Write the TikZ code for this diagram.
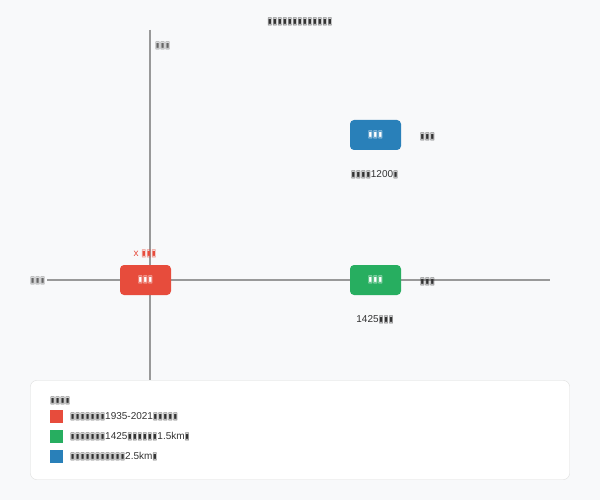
\documentclass[tikz,border=0pt]{standalone}
\usepackage{fontspec}
\usepackage{graphicx}
\setmainfont{Liberation Sans}
\newfontfamily\dejavu{DejaVu Sans}
\newcommand\tf{\makebox[5pt][c]{\resizebox{4.6pt}{6.4pt}{\dejavu\char"25A3}}}
\def\tfr#1{\ifnum#1>0 \tf\expandafter\tfr\expandafter{\the\numexpr#1-1\relax}\fi}
\definecolor{bgc}{HTML}{F8F9FA}
\definecolor{axisc}{HTML}{999999}
\definecolor{redc}{HTML}{E74C3C}
\definecolor{greenc}{HTML}{27AE60}
\definecolor{bluec}{HTML}{2980B9}
\definecolor{textc}{HTML}{333333}
\definecolor{grayc}{HTML}{666666}
\definecolor{borderc}{HTML}{DDDDDD}
\begin{document}
\begin{tikzpicture}[x=1pt,y=-1pt,
  axis/.style={draw=axisc,line width=2pt},
  place/.style={rounded corners=4pt,minimum width=51pt,minimum height=30pt,inner sep=0pt,text=white,font=\fontsize{8}{9}\selectfont},
  lbl/.style={text=textc,font=\fontsize{10}{12}\selectfont,inner sep=0pt},
  axlbl/.style={text=grayc,font=\fontsize{8}{9}\selectfont,inner sep=0pt},
  swatch/.style={minimum width=13pt,minimum height=13pt,inner sep=0pt},
  ]
\useasboundingbox (0,0) rectangle (600,500);
\fill[bgc] (0,0) rectangle (600,500);
% title
\node[text=textc,font=\bfseries\fontsize{8}{9}\selectfont,inner sep=0pt] (title) at (300,22) {\tfr{13}};
% axes
\coordinate (vtop) at (150,30);
\coordinate (vbot) at (150,380);
\coordinate (hleft) at (47,280);
\coordinate (hright) at (550,280);
\draw[axis] (vtop) -- (vbot);
\draw[axis] (hleft) -- (hright);
\node[axlbl,anchor=west] (nlab) at (155,46) {\tfr{3}};
\node[axlbl,anchor=west] (wlab) at (30,281) {\tfr{3}};
% places
\node[place,fill=redc] (home) at (145.5,280) {\tfr{3}};
\node[place,fill=greenc] (east) at (375.5,280) {\tfr{3}};
\node[place,fill=bluec] (ne) at (375.5,135) {\tfr{3}};
\node[text=redc,font=\fontsize{10}{11}\selectfont,inner sep=0pt] (homelab) at (145,253.5) {x \tfr{3}};
\node[lbl,font=\fontsize{8}{9}\selectfont] (eastr) at (427.5,281.5) {\tfr{3}};
\node[lbl,font=\fontsize{8}{9}\selectfont] (ner) at (427.5,136.5) {\tfr{3}};
\node[lbl] (eastb) at (375,319.5) {1425\tfr{3}};
\node[lbl] (neb) at (374.5,174.5) {\tfr{4}1200\tf};
% legend
\draw[borderc,fill=white,rounded corners=6pt] (30.5,380.5) rectangle (569.5,479.5);
\node[text=textc,font=\bfseries\fontsize{8}{9}\selectfont,inner sep=0pt,anchor=west] (legt) at (50,401) {\tfr{4}};
\node[swatch,fill=redc] (s1) at (56.5,416.5) {};
\node[swatch,fill=greenc] (s2) at (56.5,436.5) {};
\node[swatch,fill=bluec] (s3) at (56.5,456.5) {};
\node[lbl,anchor=west] (t1) at (70,416.5) {\tfr{7}1935-2021\tfr{5}};
\node[lbl,anchor=west] (t2) at (70,436.5) {\tfr{7}1425\tfr{6}1.5km\tf};
\node[lbl,anchor=west] (t3) at (70,456.5) {\tfr{11}2.5km\tf};
\end{tikzpicture}
\end{document}
